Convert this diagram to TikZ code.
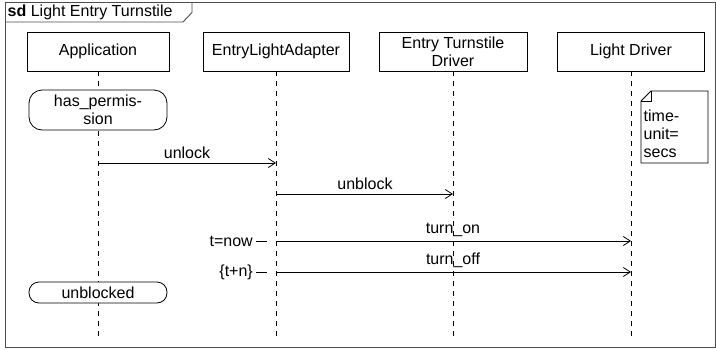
\documentclass[tikz,border=0pt]{standalone}
\usepackage{fontspec}
\setmainfont{Liberation Sans}
\usetikzlibrary{arrows.meta}
\begin{document}
\begin{tikzpicture}[x=1pt,y=-1pt,
  every node/.style={font=\fontsize{16}{18}\selectfont, inner sep=0pt},
  head/.style={draw=black, fill=white, line width=0.8pt, minimum height=39pt, align=center},
  lifeline/.style={draw=black, line width=0.8pt, dash pattern=on 5pt off 5pt},
  msg/.style={draw=black, line width=0.8pt, -{Straight Barb[length=7pt,width=9pt]}},
  msglabel/.style={anchor=south},
  invariant/.style={draw=black, fill=white, line width=0.8pt, align=center},
  tick/.style={draw=black, line width=0.8pt},
  framebox/.style={draw=black!70, line width=0.9pt}
]
\useasboundingbox (0,0) rectangle (716,349);
% frame
\draw[framebox] (5.5,2.5) rectangle (715.5,347.5);
\draw[framebox] (5.5,22) -- (183,22) -- (192,12.5) -- (192,2.5);
\node[anchor=west] (title) at (7.5,12.5) {\textbf{sd} Light Entry Turnstile};

% heads
\node[head, minimum width=142pt] (app) at (98,51.5) {Application};
\node[head, minimum width=146pt] (ela) at (276,51.5) {EntryLightAdapter};
\node[head, minimum width=148pt] (etd) at (453,51.5) {Entry Turnstile\\Driver};
\node[head, minimum width=147pt] (ld) at (631,51.5) {Light Driver};

% lifeline ends
\coordinate (append) at (98,337);
\coordinate (elaend) at (276,337);
\coordinate (etdend) at (453,337);
\coordinate (ldend) at (631,337);
\draw[lifeline] (app.south) -- (append);
\draw[lifeline] (ela.south) -- (elaend);
\draw[lifeline] (etd.south) -- (etdend);
\draw[lifeline] (ld.south) -- (ldend);

% state invariants
\node[invariant, rounded corners=13pt, minimum width=138pt, minimum height=40pt] (perm) at (98,110) {has\_permis-\\sion};
\node[invariant, rounded corners=10pt, minimum width=138pt, minimum height=21pt] (unbl) at (98,292.5) {unblocked};

% note
\draw[draw=black, fill=white, line width=0.8pt] (641,101) -- (651,91) -- (708,91) -- (708,163) -- (641,163) -- cycle;
\draw[draw=black, line width=0.6pt] (641,101) -- (651,101) -- (651,91);
\node[anchor=west, align=left] (note) at (643.5,134) {time-\\unit=\\secs};

% message anchor points
\coordinate (m1s) at (98,163);  \coordinate (m1e) at (276,163);
\coordinate (m2s) at (276,194); \coordinate (m2e) at (453,194);
\coordinate (m3s) at (276,241); \coordinate (m3e) at (631,241);
\coordinate (m4s) at (276,272); \coordinate (m4e) at (631,272);

\draw[msg] (m1s) -- (m1e);
\node[msglabel] (l1) at (187,159) {unlock};
\draw[msg] (m2s) -- (m2e);
\node[msglabel] (l2) at (365,190) {unblock};
\draw[msg] (m3s) -- (m3e);
\node[msglabel] (l3) at (453,237) {turn\_on};
\draw[msg] (m4s) -- (m4e);
\node[msglabel] (l4) at (453,268) {turn\_off};

% time observations
\node[anchor=east] (tnow) at (253,241) {t=now};
\coordinate (tnowtick) at (267,241);
\draw[tick] (tnow.east) ++(3,0) -- (tnowtick);
\node[anchor=east] (tn) at (253,272) {\{t+n\}};
\coordinate (tntick) at (267,272);
\draw[tick] (tn.east) ++(3,0) -- (tntick);
\end{tikzpicture}
\end{document}
